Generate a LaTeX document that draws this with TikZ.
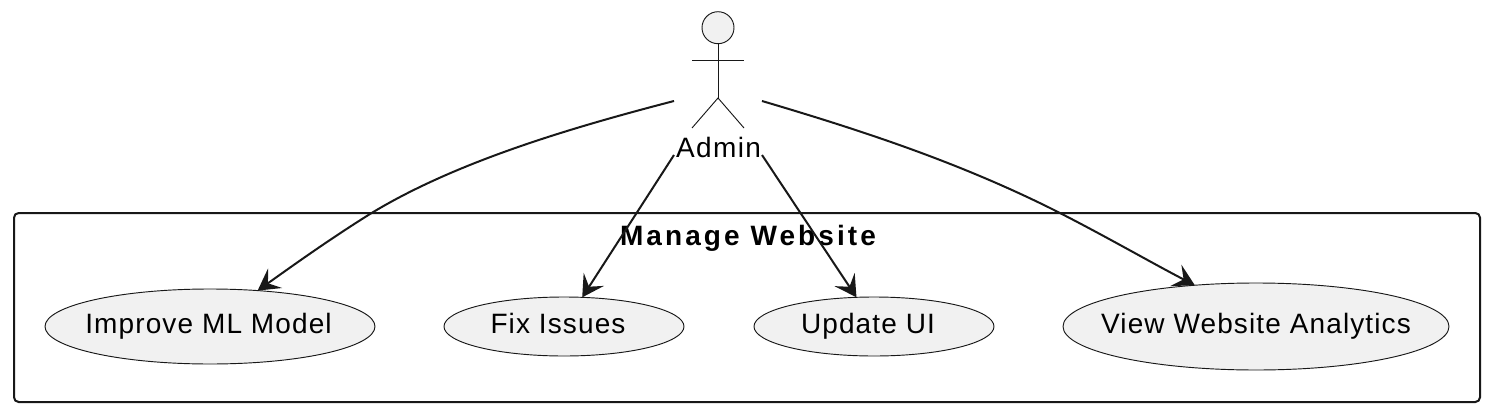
\documentclass[tikz,border=0pt]{standalone}
\usepackage{fontspec}
\setmainfont{Liberation Sans}
\usetikzlibrary{arrows.meta,shapes.geometric}
\definecolor{fillc}{HTML}{F1F1F1}
\definecolor{linec}{HTML}{181818}
\newcommand{\uctext}[2]{\makebox[0pt]{\hspace*{#1}\vphantom{Ag}#2}}
\tikzset{x=0.75pt,y=-0.75pt,
 lbl/.style={font=\fontsize{21}{24}\selectfont\addfontfeature{LetterSpace=4},text=black},
 uc/.style={draw=linec,fill=fillc,shape=ellipse,line width=0.7pt,inner sep=0pt,outer sep=0pt,lbl},
 conn/.style={draw=linec,line width=1.5pt,-{Stealth[length=16pt,width=18pt,inset=6.5pt]}},
 act/.style={draw=linec,line width=0.7pt},
 box/.style={draw=linec,line width=1.5pt,rounded corners=3.5pt}}
\begin{document}
\begin{tikzpicture}
\useasboundingbox (0,0) rectangle (1492,414);
\coordinate (bl) at (14,402);
\coordinate (tr) at (1480,213);
\draw[box] (bl) rectangle (tr);
\node[font=\fontsize{21}{24}\selectfont\bfseries\addfontfeature{LetterSpace=11},text=black] (title) at (748,238) {Manage Website};
\node[uc,minimum width=247.5pt,minimum height=56.25pt] (ml) at (210,326.5) {\uctext{-2.2pt}{Improve ML Model}};
\node[uc,minimum width=180pt,minimum height=44.25pt] (fix) at (564,326.5) {\uctext{-9pt}{Fix Issues}};
\node[uc,minimum width=180pt,minimum height=44.25pt] (ui) at (874,326.5) {\uctext{-9pt}{Update UI}};
\node[uc,minimum width=289.5pt,minimum height=65.25pt] (va) at (1256,326.5) {\uctext{0pt}{View Website Analytics}};
\node[font=\fontsize{21}{24}\selectfont\addfontfeature{LetterSpace=5},text=black] (admin) at (718.5,147) {Admin};
\node[act,fill=fillc,shape=circle,minimum size=24pt,inner sep=0pt] (head) at (718,27.7) {};
\coordinate (hip) at (718,98);
\coordinate (al) at (692,60);
\coordinate (ar) at (744,60);
\coordinate (ll) at (692,128);
\coordinate (lr) at (744,128);
\draw[act] (head.south)--(hip);
\draw[act] (al)--(ar);
\draw[act] (ll)--(hip)--(lr);
\coordinate (s1) at (674,101);
\coordinate (s2) at (674,155);
\coordinate (s3) at (762,155);
\coordinate (s4) at (762,101);
\draw[conn] (s1) .. controls (570,128) and (455,162) .. (370,214) .. controls (330,239) and (295,264) .. (ml.37.3);
\draw[conn] (s2) -- (fix.58);
\draw[conn] (s3) -- (ui.121.4);
\draw[conn] (s4) .. controls (860,130) and (955,161) .. (1050,208) .. controls (1100,233) and (1150,262) .. (va.146.8);
\end{tikzpicture}
\end{document}
